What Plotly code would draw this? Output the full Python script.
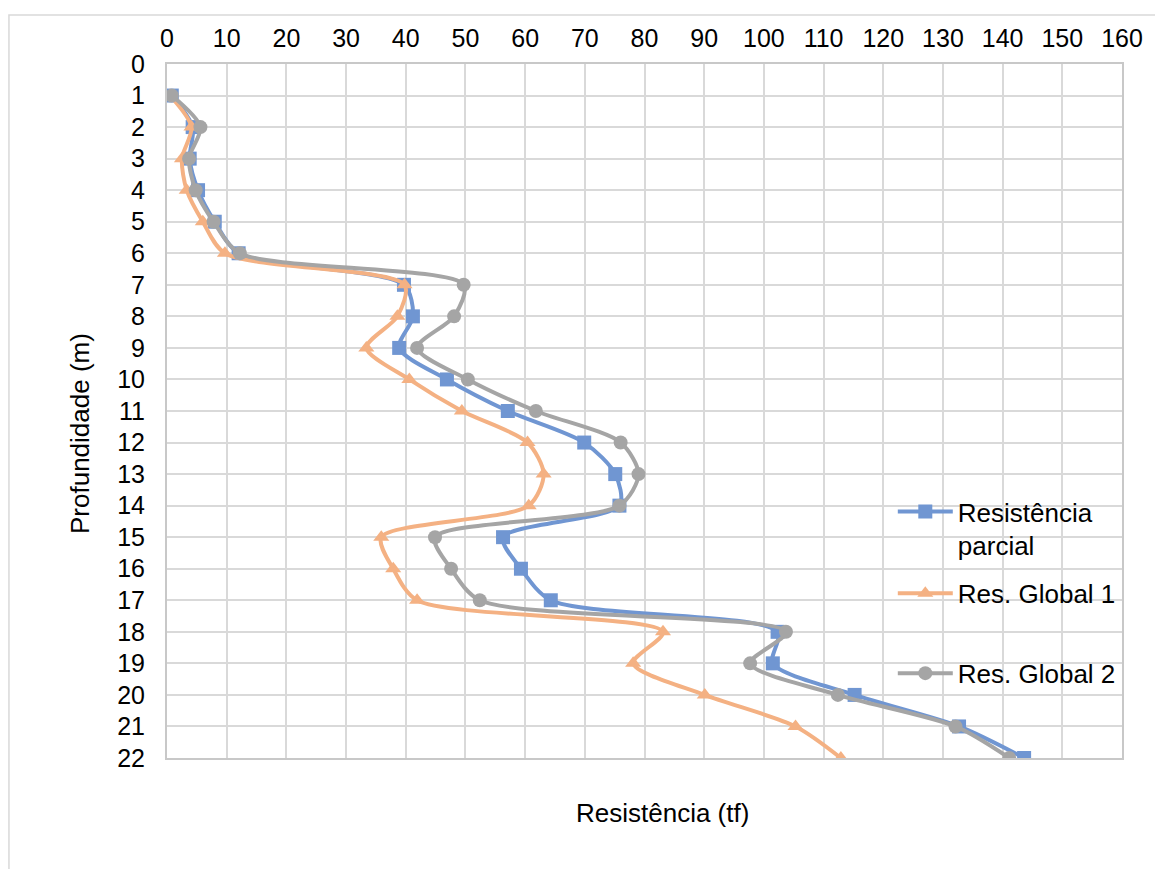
import plotly.graph_objects as go

# Depth (m) and resistance (tf) per method
profundidade = list(range(1, 23))
res_parcial = [0.8, 4.3, 3.8, 5.2, 8.0, 12.0, 39.7, 41.2, 38.9, 46.9, 57.1,
               69.9, 75.1, 75.8, 56.3, 59.3, 64.3, 102.3, 101.5, 115.2, 132.7, 143.6]
res_global1 = [0.5, 4.1, 2.5, 3.3, 6.0, 9.7, 39.8, 38.6, 33.4, 40.6, 49.4,
               60.4, 63.1, 60.6, 35.9, 37.9, 41.9, 83.1, 78.1, 90.1, 105.3, 112.9]
res_global2 = [0.8, 5.6, 3.7, 4.8, 7.8, 12.2, 49.7, 48.1, 41.9, 50.4, 61.8,
               76.0, 79.0, 75.8, 44.9, 47.6, 52.4, 103.7, 97.7, 112.4, 132.1, 141.1]

x_ticks = list(range(0, 161, 10))
y_ticks = list(range(0, 23, 1))

FONT = "Liberation Sans, Arial, sans-serif"
GRID = "#d9d9d9"

# name, values, colour, marker, legend id, legend top (paper y)
series = [
    ("Resistência<br>parcial", res_parcial, "#7096d2", "square", "legend", 0.389),
    ("Res. Global 1", res_global1, "#f4b183", "triangle-up", "legend2", 0.271),
    ("Res. Global 2", res_global2, "#a5a5a5", "circle", "legend3", 0.156),
]

fig = go.Figure()
legend_layouts = {}
for name, vals, color, symbol, leg, top in series:
    fig.add_trace(go.Scatter(
        x=vals, y=profundidade, name=name, mode="lines+markers",
        line=dict(color=color, width=4, shape="spline", smoothing=0.8),
        marker=dict(symbol=symbol, size=14, color=color),
        legend=leg,
    ))
    legend_layouts[leg] = dict(
        x=0.76, y=top, xanchor="left", yanchor="top",
        bgcolor="rgba(0,0,0,0)", font=dict(size=26, family=FONT),
        valign="top", itemwidth=55,
    )

fig.update_layout(
    width=1155, height=869,
    margin=dict(l=167, r=30, t=64, b=111),
    paper_bgcolor="white", plot_bgcolor="white",
    font=dict(family=FONT, size=25, color="#000000"),
    showlegend=True,
    **legend_layouts,
    xaxis=dict(
        range=[0, 160], side="top", tickmode="array", tickvals=x_ticks,
        showgrid=True, gridcolor=GRID, gridwidth=2,
        showline=True, linecolor="#c8c8c8", linewidth=2, mirror=True,
        zeroline=False, ticks="", ticklabelstandoff=5,
        tickfont=dict(size=25, family=FONT),
    ),
    yaxis=dict(
        range=[22, 0], tickmode="array", tickvals=y_ticks,
        showgrid=True, gridcolor=GRID, gridwidth=2,
        showline=True, linecolor="#c8c8c8", linewidth=2, mirror=True,
        zeroline=False, ticks="", ticklabelstandoff=15,
        tickfont=dict(size=25, family=FONT),
    ),
    annotations=[
        dict(text="Resistência (tf)", xref="paper", yref="paper",
             x=0.519, y=-0.079, xanchor="center", yanchor="middle",
             showarrow=False, font=dict(size=26, family=FONT)),
        dict(text="Profundidade (m)", xref="paper", yref="paper",
             x=-0.091, y=0.467, xanchor="center", yanchor="middle",
             showarrow=False, textangle=-90,
             font=dict(size=26, family=FONT)),
    ],
    shapes=[
        dict(type="rect", xref="paper", yref="paper",
             x0=-0.1655, x1=1.2, y0=-0.3, y1=1.0706,
             line=dict(color=GRID, width=1.5), layer="below"),
    ],
)

fig.write_html("out.html")
